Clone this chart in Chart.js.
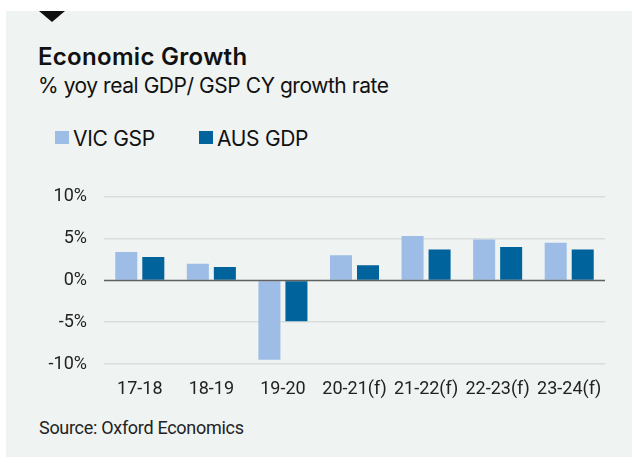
<!DOCTYPE html>
<html>
<head>
<meta charset="utf-8">
<script src="https://cdn.jsdelivr.net/npm/chart.js@4"></script>
<style>
  body { margin: 0; background: #fff; width: 632px; height: 457px; overflow: hidden; }
  #panel { position: absolute; left: 6px; top: 11px; width: 626px; height: 446px; background: #eff3f2; }
  #tri { position: absolute; left: 39px; top: 11px; width: 0; height: 0;
    border-left: 13px solid transparent; border-right: 13px solid transparent; border-top: 11px solid #111; }
  .txt { position: absolute; white-space: nowrap; color: #111; line-height: 1; }
  #title { left: 38px; top: 42px; font: 600 24px Inter, sans-serif; letter-spacing: 0.3px; }
  #sub { left: 38px; top: 73px; font: 400 21px Inter, sans-serif; letter-spacing: -0.45px; }
  .leg { top: 126px; font: 400 21px Inter, sans-serif; letter-spacing: -0.3px; }
  .box { position: absolute; top: 131px; width: 14px; height: 13px; }
  #source { left: 39px; top: 417px; font: 400 18px Roboto, sans-serif; letter-spacing: -0.3px; color: #222; }
  #wrap { position: absolute; left: 0; top: 169px; width: 632px; height: 231px; }
</style>
</head>
<body>
<div id="panel"></div>
<div id="tri"></div>
<div class="txt" id="title">Economic Growth</div>
<div class="txt" id="sub">% yoy real GDP/ GSP CY growth rate</div>
<div class="box" style="left:55px;background:#9dbde6"></div>
<div class="txt leg" style="left:73px">VIC GSP</div>
<div class="box" style="left:199px;background:#00639b"></div>
<div class="txt leg" style="left:217px">AUS GDP</div>
<div id="wrap"><canvas id="growthChart"></canvas></div>
<div class="txt" id="source">Source: Oxford Economics</div>
<script>
var years = ['17-18', '18-19', '19-20', '20-21(f)', '21-22(f)', '22-23(f)', '23-24(f)'];
var vicGsp = [3.4, 2.0, -9.5, 3.0, 5.3, 4.9, 4.5];
var ausGdp = [2.8, 1.6, -4.9, 1.8, 3.7, 4.0, 3.7];
var yTicks = [-10, -5, 0, 5, 10];

// zero line sits on top of the bars in the original
var zeroLine = {
  id: 'zeroLine',
  afterDatasetsDraw: function (chart) {
    var ctx = chart.ctx, area = chart.chartArea;
    var y = chart.scales.y.getPixelForValue(0);
    ctx.save();
    ctx.strokeStyle = 'rgba(70,70,70,0.85)';
    ctx.lineWidth = 1.5;
    ctx.beginPath();
    ctx.moveTo(area.left, y);
    ctx.lineTo(area.right, y);
    ctx.stroke();
    ctx.restore();
  }
};

new Chart(document.getElementById('growthChart'), {
  type: 'bar',
  data: {
    labels: years,
    datasets: [{
      label: 'VIC GSP',
      data: vicGsp,
      backgroundColor: '#9dbde6',
      categoryPercentage: 0.755,
      barPercentage: 0.815
    }, {
      label: 'AUS GDP',
      data: ausGdp,
      backgroundColor: '#00639b',
      categoryPercentage: 0.755,
      barPercentage: 0.815
    }]
  },
  options: {
    responsive: true,
    maintainAspectRatio: false,
    animation: false,
    layout: { padding: { left: 0, right: 27, top: 14, bottom: 0 } },
    plugins: {
      legend: { display: false },
      tooltip: { enabled: false }
    },
    scales: {
      x: {
        afterFit: function (scale) { scale.height = 36; },
        grid: { display: false, drawTicks: false },
        border: { display: false },
        ticks: {
          color: '#222',
          padding: 15,
          maxRotation: 0,
          autoSkip: false,
          font: { family: 'Roboto', size: 18 }
        }
      },
      y: {
        min: -10,
        max: 10,
        afterFit: function (scale) { scale.width = 104; },
        afterBuildTicks: function (scale) {
          scale.ticks = yTicks.map(function (v) { return { value: v }; });
        },
        grid: {
          drawTicks: false,
          lineWidth: 1.5,
          color: function (c) { return c.tick && c.tick.value === 0 ? 'rgba(0,0,0,0)' : '#d9dddc'; }
        },
        border: { display: false },
        ticks: {
          color: '#222',
          padding: 17,
          font: { family: 'Roboto', size: 18 },
          callback: function (v) { return v + '%'; }
        }
      }
    }
  },
  plugins: [zeroLine]
});
</script>
</body>
</html>
